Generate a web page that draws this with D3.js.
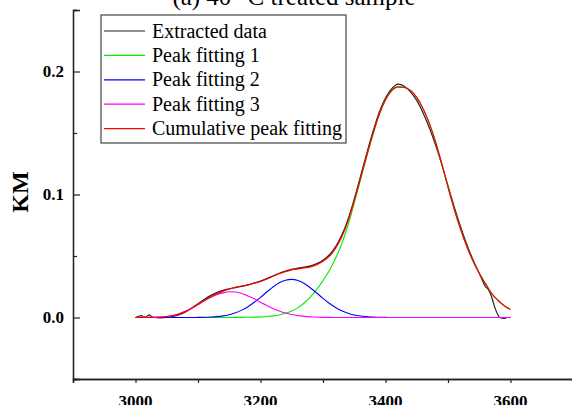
<!DOCTYPE html>
<html>
<head>
<meta charset="utf-8">
<script src="https://cdn.jsdelivr.net/npm/d3@7"></script>
<style>
  html, body { margin: 0; padding: 0; background: #fff; }
  svg { display: block; }
  text { font-family: "Liberation Serif", "Times New Roman", serif; }
</style>
</head>
<body>
<svg id="chart" width="572" height="405"></svg>
<script>
// ---------- data ----------
const titleText = "(a) 40 °C treated sample";
const yLabel = "KM";
const xTicks = [3000, 3200, 3400, 3600];
const xMinorTicks = [2900, 3100, 3300, 3500];
const yTicks = [0.0, 0.1, 0.2];
const yMinorTicks = [-0.05, 0.05, 0.15, 0.25];
const seriesNames = ["Extracted data", "Peak fitting 1", "Peak fitting 2", "Peak fitting 3", "Cumulative peak fitting"];

// wavenumber grid of the fitted curves (cm-1)
const fitX = d3.range(3000, 3601, 10);

const peak1 = [0,0,0,0,0,0,0,0,0,0,0,0,0,0,0,
  0.0000,0.0001,0.0001,0.0002,0.0003,0.0005,0.0008,0.0013,0.0021,0.0034,0.0053,0.0080,0.0118,0.0167,0.0228,
  0.030,0.038,0.048,0.060,0.075,0.093,0.112,0.131,0.149,0.165,0.177,0.1845,0.1875,0.187,0.1845,0.179,
  0.170,0.158,0.143,0.125,0.106,0.088,0.072,0.058,0.046,0.036,0.0275,0.0195,0.014,0.0095,0.0065];

const peak2 = [0,0,0,0,0,0,0,0,0,0,
  0.0001,0.0002,0.0004,0.0007,0.0013,0.0023,0.0038,0.0060,0.0088,0.0124,0.0164,0.0207,0.0248,0.0282,0.0303,
  0.0310,0.0300,0.0276,0.0240,0.0199,0.0156,0.0116,0.0082,0.0055,0.0035,0.0021,0.0012,0.0007,0.0003,0.0002,0.0001,
  0,0,0,0,0,0,0,0,0,0,0,0,0,0,0,0,0,0,0,0];

const peak3 = [0,0.0001,0.0001,0.0002,0.0004,0.0008,0.0016,0.0030,0.0050,0.0076,0.0105,0.0135,0.0162,0.0185,0.0200,
  0.0209,0.0207,0.0195,0.0175,0.0152,0.0124,0.0098,0.0074,0.0053,0.0036,0.0024,0.0015,0.0009,0.0005,0.0003,0.0001,0.0001,
  0,0,0,0,0,0,0,0,0,0,0,0,0,0,0,0,0,0,0,0,0,0,0,0,0,0,0,0,0];

const cumulative = [0.0000,0.0001,0.0001,0.0002,0.0004,0.0008,0.0016,0.0030,0.0050,0.0076,0.0106,0.0137,0.0166,0.0192,0.0213,
  0.0232,0.0246,0.0256,0.0265,0.0279,0.0293,0.0313,0.0335,0.0356,0.0373,0.0387,0.0395,0.0403,0.0412,0.0430,
  0.0457,0.0497,0.0562,0.0655,0.0785,0.0951,0.1132,0.1317,0.1493,0.1652,0.1771,0.1845,0.1875,0.1870,0.1845,0.1790,
  0.1700,0.1580,0.1430,0.1250,0.1060,0.0880,0.0720,0.0580,0.0460,0.0360,0.0275,0.0195,0.0140,0.0095,0.0065];

const dataX = [3000,3005,3010,3013,3018,3022,3026,3030,3040,3050,3060,3070,3080,3090,3100,3110,3120,3130,3140,3150,
  3160,3170,3180,3190,3200,3210,3220,3230,3240,3250,3260,3270,3280,3290,3300,3310,3320,3330,3340,3350,3360,3370,
  3380,3390,3400,3410,3420,3430,3440,3450,3460,3470,3480,3490,3500,3510,3520,3530,3540,3550,3560,3565,3570,3575,
  3580,3583,3590,3595,3600];
const dataY = [0.0000,0.0010,0.0015,0.0003,0.0008,0.0022,0.0005,0.0000,-0.0003,0.0000,0.0008,0.0022,0.0045,0.0078,0.0112,
  0.0147,0.0178,0.0202,0.0220,0.0233,0.0243,0.0253,0.0265,0.0280,0.0296,0.0316,0.0338,0.0360,0.0378,0.0392,0.0402,
  0.0410,0.0420,0.0438,0.0466,0.0508,0.0575,0.0668,0.0797,0.0962,0.1147,0.1335,0.1512,0.1670,0.1785,0.1860,0.1897,
  0.1880,0.1835,0.1765,0.1665,0.1545,0.1405,0.1245,0.1070,0.0900,0.0740,0.0595,0.0470,0.0360,0.0250,0.0225,0.0165,
  0.0080,0.0020,0.0000,-0.0008,0.0000,0.0000];

const colors = ["#222222", "#00ee00", "#0000ff", "#ff00ff", "#ff0000"];

// ---------- layout ----------
const svg = d3.select("#chart");
const x = d3.scaleLinear().domain([2900, 3700]).range([73, 573]);
const y = d3.scaleLinear().domain([-0.05, 0.25]).range([379, 10]);

// title (cut off by the top edge, as in the reference)
svg.append("text").attr("x", 294).attr("y", 5).attr("text-anchor", "middle")
  .attr("font-size", 25).attr("fill", "#000").text(titleText);

// curves
const line = d3.line().x(d => x(d[0])).y(d => y(d[1])).curve(d3.curveMonotoneX);
const fitSeries = [peak1, peak2, peak3];
const g = svg.append("g");
g.append("path").datum(d3.zip(dataX, dataY)).attr("d", line)
  .attr("fill", "none").attr("stroke", colors[0]).attr("stroke-width", 1.2);
fitSeries.forEach((s, i) => {
  g.append("path").datum(d3.zip(fitX, s)).attr("d", line)
    .attr("fill", "none").attr("stroke", colors[i + 1]).attr("stroke-width", 1.1);
});
g.append("path").datum(d3.zip(fitX, cumulative)).attr("d", line)
  .attr("fill", "none").attr("stroke", colors[4]).attr("stroke-width", 1.2);

// y axis (ticks pointing inward)
const yAx = svg.append("g").attr("transform", `translate(${x(2900)},0)`)
  .call(d3.axisRight(y).tickValues(yTicks).tickSize(7).tickFormat(""));
const yAxMinor = svg.append("g").attr("transform", `translate(${x(2900)},0)`)
  .call(d3.axisRight(y).tickValues(yMinorTicks).tickSize(4).tickFormat(""));
[yAx, yAxMinor].forEach(a => {
  a.select(".domain").attr("stroke", "#222").attr("stroke-width", 1.3);
  a.selectAll(".tick line").attr("stroke", "#222").attr("stroke-width", 1.2);
});
svg.selectAll(".ylab").data(yTicks).enter().append("text")
  .attr("x", 64).attr("y", d => y(d)).attr("dy", "0.35em").attr("text-anchor", "end")
  .attr("font-size", 17).attr("font-weight", "bold").text(d => d3.format(".1f")(d));

// x axis (ticks pointing outward)
const xAx = svg.append("g").attr("transform", `translate(0,${y(-0.05)})`)
  .call(d3.axisBottom(x).tickValues(xTicks).tickSize(4).tickFormat(""));
const xAxMinor = svg.append("g").attr("transform", `translate(0,${y(-0.05)})`)
  .call(d3.axisBottom(x).tickValues(xMinorTicks).tickSize(4).tickFormat(""));
[xAx, xAxMinor].forEach(a => {
  a.select(".domain").attr("stroke", "#222").attr("stroke-width", 1.3);
  a.selectAll(".tick line").attr("stroke", "#222").attr("stroke-width", 1.2);
});
svg.selectAll(".xlab").data(xTicks).enter().append("text")
  .attr("x", d => x(d)).attr("y", 407).attr("text-anchor", "middle")
  .attr("font-size", 17).attr("font-weight", "bold").text(d => d);

// y label
svg.append("text").attr("transform", "translate(28,192) rotate(-90)")
  .attr("text-anchor", "middle").attr("font-size", 24).attr("font-weight", "bold").text(yLabel);

// legend
const leg = svg.append("g");
leg.append("rect").attr("x", 101).attr("y", 15).attr("width", 245).attr("height", 128)
  .attr("fill", "#fff").attr("stroke", "#444").attr("stroke-width", 1.2);
seriesNames.forEach((name, i) => {
  const cy = 31 + i * 24.4;
  leg.append("line").attr("x1", 104).attr("x2", 145).attr("y1", cy).attr("y2", cy)
    .attr("stroke", colors[i]).attr("stroke-width", 1.2);
  leg.append("text").attr("x", 152).attr("y", cy).attr("dy", "0.33em")
    .attr("font-size", 20).attr("fill", "#000").text(name);
});
</script>
</body>
</html>
